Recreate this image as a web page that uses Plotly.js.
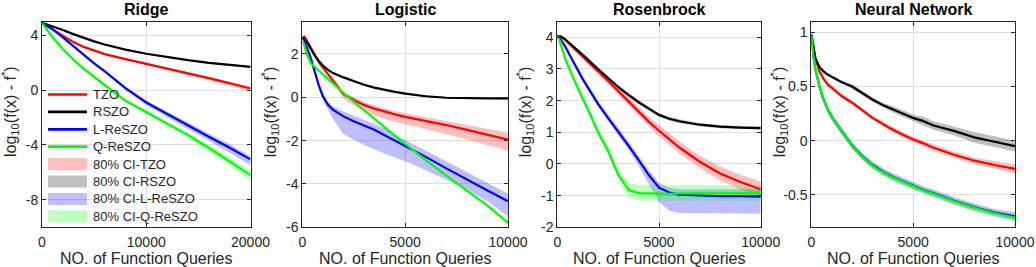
<!DOCTYPE html>
<html>
<head>
<meta charset="utf-8">
<script src="https://cdn.plot.ly/plotly-3.0.1.min.js"></script>
<style>
html,body{margin:0;padding:0;background:#fff;}
#chart{width:1036px;height:267px;}
</style>
</head>
<body>
<div id="chart"></div>
<script>
// ---------- data ----------
const seriesNames = ['TZO', 'RSZO', 'L-ReSZO', 'Q-ReSZO'];
const bandNames = ['80% CI-TZO', '80% CI-RSZO', '80% CI-L-ReSZO', '80% CI-Q-ReSZO'];
const panelTitles = ['Ridge', 'Logistic', 'Rosenbrock', 'Neural Network'];
const xTitle = 'NO. of Function Queries';
const yTitle = 'log<sub>10</sub>(f(x) - f<sup>*</sup>)';

// queries grids
const qRidge = [0, 250, 500, 1000, 2000, 3000, 4000, 5000, 6000, 8000, 10000, 12000, 14000, 16000, 18000, 20000];
const qOther = [0, 100, 200, 400, 600, 800, 1000, 1250, 1500, 2000, 2500, 3000, 3500, 4000, 4500, 5000, 5500, 6000, 7000, 8000, 9000, 10000];

// Ridge
const ridgeTZO   = [4.9, 4.78, 4.66, 4.4, 3.92, 3.5, 3.15, 2.87, 2.62, 2.26, 1.92, 1.57, 1.22, 0.87, 0.5, 0.12];
const ridgeTZOlo = [4.88, 4.75, 4.62, 4.36, 3.87, 3.45, 3.09, 2.8, 2.55, 2.18, 1.83, 1.46, 1.1, 0.73, 0.34, -0.08];
const ridgeTZOhi = [4.92, 4.81, 4.7, 4.44, 3.96, 3.55, 3.2, 2.93, 2.68, 2.33, 2.0, 1.66, 1.32, 0.99, 0.63, 0.26];
const ridgeRSZO   = [4.9, 4.84, 4.78, 4.66, 4.38, 4.08, 3.8, 3.55, 3.32, 2.95, 2.65, 2.4, 2.18, 1.98, 1.83, 1.7];
const ridgeRSZOlo = [4.87, 4.81, 4.75, 4.62, 4.34, 4.04, 3.76, 3.51, 3.28, 2.9, 2.6, 2.35, 2.12, 1.92, 1.76, 1.62];
const ridgeRSZOhi = [4.93, 4.87, 4.81, 4.7, 4.42, 4.12, 3.84, 3.59, 3.36, 3.0, 2.7, 2.45, 2.24, 2.04, 1.9, 1.78];
const ridgeL   = [4.9, 4.8, 4.68, 4.45, 3.85, 3.2, 2.55, 1.95, 1.38, 0.15, -0.9, -1.75, -2.6, -3.4, -4.2, -5.05];
const ridgeLlo = [4.88, 4.77, 4.64, 4.4, 3.78, 3.12, 2.46, 1.85, 1.26, 0.0, -1.08, -1.97, -2.86, -3.7, -4.56, -5.5];
const ridgeLhi = [4.92, 4.83, 4.72, 4.5, 3.92, 3.28, 2.63, 2.04, 1.48, 0.27, -0.76, -1.58, -2.4, -3.17, -3.95, -4.82];
const ridgeQ   = [4.9, 4.62, 4.38, 3.85, 2.98, 2.22, 1.55, 0.95, 0.37, -0.78, -1.6, -2.42, -3.28, -4.22, -5.18, -6.2];
const ridgeQlo = [4.88, 4.59, 4.34, 3.8, 2.92, 2.15, 1.47, 0.86, 0.27, -0.9, -1.75, -2.6, -3.5, -4.5, -5.52, -6.65];
const ridgeQhi = [4.92, 4.65, 4.42, 3.9, 3.04, 2.29, 1.63, 1.04, 0.47, -0.67, -1.46, -2.26, -3.1, -4.0, -4.92, -5.92];

// Logistic
const logTZO   = [2.75, 2.8, 2.65, 2.3, 1.92, 1.62, 1.37, 1.07, 0.78, 0.15, -0.12, -0.35, -0.52, -0.67, -0.79, -0.9, -0.99, -1.08, -1.28, -1.5, -1.72, -1.95];
const logTZOlo = [2.71, 2.76, 2.6, 2.25, 1.86, 1.55, 1.28, 0.96, 0.64, -0.05, -0.38, -0.65, -0.84, -1.0, -1.13, -1.25, -1.35, -1.45, -1.7, -1.95, -2.2, -2.47];
const logTZOhi = [2.79, 2.84, 2.7, 2.35, 1.98, 1.69, 1.44, 1.16, 0.88, 0.25, 0.0, -0.22, -0.38, -0.52, -0.63, -0.73, -0.82, -0.9, -1.08, -1.27, -1.45, -1.64];
const logRSZO   = [2.75, 2.7, 2.58, 2.25, 1.95, 1.68, 1.47, 1.27, 1.12, 0.92, 0.74, 0.58, 0.45, 0.34, 0.25, 0.17, 0.1, 0.05, -0.02, -0.05, -0.05, -0.05];
const logRSZOlo = [2.71, 2.66, 2.54, 2.21, 1.91, 1.64, 1.43, 1.23, 1.08, 0.88, 0.7, 0.54, 0.41, 0.3, 0.21, 0.13, 0.06, 0.01, -0.06, -0.09, -0.09, -0.1];
const logRSZOhi = [2.79, 2.74, 2.62, 2.29, 1.99, 1.72, 1.51, 1.31, 1.16, 0.96, 0.78, 0.62, 0.49, 0.38, 0.29, 0.21, 0.14, 0.09, 0.02, -0.01, -0.01, 0.0];
const logL   = [2.7, 2.65, 2.35, 1.85, 1.2, 0.55, 0.05, -0.35, -0.58, -0.88, -1.1, -1.3, -1.5, -1.75, -2.0, -2.23, -2.49, -2.75, -3.28, -3.8, -4.3, -4.8];
const logLlo = [2.66, 2.6, 2.28, 1.76, 1.08, 0.4, -0.15, -0.6, -1.0, -1.71, -1.95, -2.2, -2.4, -2.6, -2.78, -2.95, -3.15, -3.35, -3.8, -4.25, -4.8, -5.5];
const logLhi = [2.74, 2.7, 2.42, 1.94, 1.3, 0.68, 0.2, -0.2, -0.42, -0.66, -0.85, -1.04, -1.22, -1.43, -1.7, -1.98, -2.22, -2.45, -2.95, -3.45, -3.95, -4.45];
const logQ   = [2.6, 2.4, 2.05, 1.58, 1.4, 1.22, 1.08, 0.86, 0.63, 0.2, -0.2, -0.6, -1.0, -1.4, -1.78, -2.15, -2.53, -2.9, -3.62, -4.3, -5.0, -5.8];
const logQlo = [2.57, 2.37, 2.02, 1.55, 1.37, 1.19, 1.05, 0.83, 0.6, 0.17, -0.23, -0.63, -1.03, -1.43, -1.81, -2.18, -2.56, -2.94, -3.66, -4.35, -5.05, -5.86];
const logQhi = [2.63, 2.43, 2.08, 1.61, 1.43, 1.25, 1.11, 0.89, 0.66, 0.23, -0.17, -0.57, -0.97, -1.37, -1.75, -2.12, -2.5, -2.86, -3.58, -4.25, -4.95, -5.74];

// Rosenbrock
const rosTZO   = [4.05, 4.04, 4.01, 3.92, 3.8, 3.68, 3.56, 3.41, 3.25, 2.93, 2.62, 2.3, 1.98, 1.65, 1.33, 1.05, 0.77, 0.52, 0.07, -0.3, -0.57, -0.8];
const rosTZOlo = [4.03, 4.01, 3.97, 3.87, 3.74, 3.61, 3.48, 3.32, 3.15, 2.82, 2.5, 2.17, 1.84, 1.5, 1.18, 0.88, 0.59, 0.33, -0.13, -0.52, -0.8, -1.02];
const rosTZOhi = [4.07, 4.07, 4.05, 3.97, 3.86, 3.75, 3.64, 3.5, 3.35, 3.04, 2.74, 2.43, 2.12, 1.8, 1.48, 1.22, 0.95, 0.71, 0.27, -0.08, -0.34, -0.56];
const rosRSZO   = [4.05, 4.04, 4.02, 3.93, 3.82, 3.7, 3.6, 3.46, 3.3, 3.0, 2.7, 2.43, 2.18, 1.95, 1.75, 1.55, 1.43, 1.35, 1.24, 1.18, 1.15, 1.13];
const rosRSZOlo = [4.03, 4.01, 3.98, 3.89, 3.77, 3.65, 3.55, 3.41, 3.25, 2.95, 2.65, 2.38, 2.12, 1.89, 1.69, 1.49, 1.37, 1.29, 1.19, 1.13, 1.1, 1.08];
const rosRSZOhi = [4.07, 4.07, 4.06, 3.97, 3.87, 3.75, 3.65, 3.51, 3.35, 3.05, 2.75, 2.48, 2.24, 2.01, 1.81, 1.61, 1.49, 1.41, 1.29, 1.23, 1.2, 1.18];
const rosL   = [4.05, 4.0, 3.9, 3.7, 3.45, 3.2, 2.95, 2.68, 2.42, 1.9, 1.45, 1.02, 0.58, 0.12, -0.35, -0.75, -0.9, -0.97, -1.0, -1.02, -1.02, -1.03];
const rosLlo = [4.03, 3.97, 3.86, 3.65, 3.39, 3.13, 2.87, 2.6, 2.33, 1.8, 1.34, 0.9, 0.44, -0.05, -0.65, -1.2, -1.48, -1.55, -1.57, -1.57, -1.57, -1.57];
const rosLhi = [4.07, 4.03, 3.94, 3.75, 3.51, 3.27, 3.03, 2.76, 2.51, 2.0, 1.56, 1.14, 0.7, 0.25, -0.2, -0.6, -0.75, -0.8, -0.8, -0.8, -0.8, -0.8];
const rosQ   = [4.05, 3.92, 3.7, 3.3, 2.98, 2.68, 2.4, 2.05, 1.72, 1.0, 0.4, -0.35, -0.82, -0.92, -0.93, -0.94, -0.94, -0.93, -0.93, -0.92, -0.92, -0.92];
const rosQlo = [4.03, 3.89, 3.66, 3.25, 2.92, 2.61, 2.32, 1.96, 1.62, 0.89, 0.27, -0.5, -1.08, -1.16, -1.17, -1.18, -1.18, -1.18, -1.17, -1.17, -1.17, -1.17];
const rosQhi = [4.07, 3.95, 3.74, 3.35, 3.04, 2.75, 2.48, 2.14, 1.82, 1.11, 0.53, -0.2, -0.6, -0.66, -0.67, -0.68, -0.68, -0.67, -0.67, -0.67, -0.67, -0.67];

// Neural Network
const nnTZO   = [0.98, 0.86, 0.76, 0.64, 0.57, 0.52, 0.49, 0.45, 0.41, 0.35, 0.28, 0.21, 0.155, 0.1, 0.055, 0.01, -0.025, -0.065, -0.13, -0.185, -0.225, -0.26];
const nnTZOlo = [0.97, 0.85, 0.75, 0.62, 0.55, 0.5, 0.47, 0.43, 0.39, 0.33, 0.26, 0.19, 0.13, 0.075, 0.03, -0.015, -0.05, -0.095, -0.16, -0.215, -0.26, -0.3];
const nnTZOhi = [0.99, 0.87, 0.77, 0.66, 0.59, 0.54, 0.51, 0.47, 0.43, 0.37, 0.3, 0.23, 0.18, 0.125, 0.08, 0.035, 0.0, -0.035, -0.1, -0.155, -0.19, -0.22];
const nnRSZO   = [0.98, 0.86, 0.76, 0.68, 0.64, 0.61, 0.59, 0.56, 0.54, 0.5, 0.44, 0.38, 0.33, 0.29, 0.25, 0.21, 0.18, 0.14, 0.09, 0.03, -0.01, -0.05];
const nnRSZOlo = [0.97, 0.85, 0.75, 0.67, 0.63, 0.6, 0.58, 0.55, 0.53, 0.48, 0.42, 0.36, 0.31, 0.26, 0.22, 0.18, 0.14, 0.1, 0.05, -0.02, -0.06, -0.1];
const nnRSZOhi = [0.99, 0.87, 0.77, 0.69, 0.65, 0.62, 0.6, 0.57, 0.55, 0.52, 0.46, 0.4, 0.35, 0.32, 0.28, 0.24, 0.22, 0.18, 0.13, 0.08, 0.04, 0.0];
const nnL   = [0.98, 0.78, 0.66, 0.5, 0.38, 0.29, 0.22, 0.15, 0.085, -0.045, -0.145, -0.225, -0.285, -0.335, -0.375, -0.415, -0.455, -0.485, -0.555, -0.615, -0.665, -0.7];
const nnLlo = [0.97, 0.75, 0.63, 0.47, 0.35, 0.26, 0.19, 0.12, 0.055, -0.075, -0.175, -0.26, -0.32, -0.37, -0.41, -0.45, -0.49, -0.52, -0.59, -0.65, -0.7, -0.74];
const nnLhi = [0.99, 0.81, 0.69, 0.53, 0.41, 0.32, 0.25, 0.18, 0.115, -0.015, -0.115, -0.19, -0.25, -0.3, -0.34, -0.38, -0.42, -0.45, -0.52, -0.58, -0.63, -0.66];
const nnQ   = [0.98, 0.78, 0.66, 0.5, 0.38, 0.29, 0.22, 0.15, 0.08, -0.05, -0.15, -0.23, -0.29, -0.34, -0.38, -0.42, -0.46, -0.49, -0.56, -0.62, -0.67, -0.71];
const nnQlo = [0.97, 0.75, 0.63, 0.47, 0.35, 0.26, 0.19, 0.12, 0.05, -0.08, -0.18, -0.26, -0.32, -0.37, -0.41, -0.45, -0.49, -0.52, -0.59, -0.65, -0.7, -0.74];
const nnQhi = [0.99, 0.81, 0.69, 0.53, 0.41, 0.32, 0.25, 0.18, 0.11, -0.02, -0.12, -0.2, -0.26, -0.31, -0.35, -0.39, -0.43, -0.46, -0.53, -0.59, -0.64, -0.68];

// axis ticks
const xTicksRidge = [0, 10000, 20000];
const xTicksOther = [0, 5000, 10000];
const yTicksRidge = [-8, -4, 0, 4];
const yTicksLog = [-6, -4, -2, 0, 2];
const yTicksRos = [-2, -1, 0, 1, 2, 3, 4];
const yTicksNN = [-0.5, 0, 0.5, 1];

// ---------- styling ----------
const lineColors = ['#ff0000', '#000000', '#0000ff', '#00ff00'];
const bandColors = ['rgba(255,0,0,0.25)', 'rgba(0,0,0,0.25)', 'rgba(0,0,255,0.25)', 'rgba(0,255,0,0.25)'];

const W = 1036, H = 267;
const plotTop = 21.5, plotBottom = 227.3;
const panels = [
  {x: qRidge, series: [[ridgeTZO, ridgeTZOlo, ridgeTZOhi], [ridgeRSZO, ridgeRSZOlo, ridgeRSZOhi], [ridgeL, ridgeLlo, ridgeLhi], [ridgeQ, ridgeQlo, ridgeQhi]],
   left: 42, right: 250.5, xr: [0, 20000], xt: xTicksRidge, yr: [-10, 5], yt: yTicksRidge},
  {x: qOther, series: [[logTZO, logTZOlo, logTZOhi], [logRSZO, logRSZOlo, logRSZOhi], [logL, logLlo, logLhi], [logQ, logQlo, logQhi]],
   left: 302.3, right: 508, xr: [0, 10000], xt: xTicksOther, yr: [-6, 3.5], yt: yTicksLog},
  {x: qOther, series: [[rosTZO, rosTZOlo, rosTZOhi], [rosRSZO, rosRSZOlo, rosRSZOhi], [rosL, rosLlo, rosLhi], [rosQ, rosQlo, rosQhi]],
   left: 557.3, right: 760.7, xr: [0, 10000], xt: xTicksOther, yr: [-2, 4.5], yt: yTicksRos},
  {x: qOther, series: [[nnTZO, nnTZOlo, nnTZOhi], [nnRSZO, nnRSZOlo, nnRSZOhi], [nnL, nnLlo, nnLhi], [nnQ, nnQlo, nnQhi]],
   left: 811.3, right: 1015, xr: [0, 10000], xt: xTicksOther, yr: [-0.8, 1.1], yt: yTicksNN}
];

const traces = [];
const layout = {
  width: W, height: H, autosize: false,
  margin: {l: 0, r: 0, t: 0, b: 0, pad: 0},
  paper_bgcolor: '#ffffff', plot_bgcolor: '#ffffff',
  font: {family: '"Liberation Sans", Arial, sans-serif', size: 14, color: '#262626'},
  showlegend: false,
  annotations: [],
  shapes: []
};

panels.forEach((p, i) => {
  const k = i === 0 ? '' : String(i + 1);
  const xa = 'x' + k, ya = 'y' + k;
  p.series.forEach((s, j) => {
    traces.push({
      type: 'scatter', mode: 'lines', xaxis: xa, yaxis: ya,
      x: p.x.concat(p.x.slice().reverse()),
      y: s[2].concat(s[1].slice().reverse()),
      fill: 'toself', fillcolor: bandColors[j],
      line: {width: 0, color: bandColors[j]},
      name: bandNames[j], hoverinfo: 'skip'
    });
  });
  p.series.forEach((s, j) => {
    traces.push({
      type: 'scatter', mode: 'lines', xaxis: xa, yaxis: ya,
      x: p.x, y: s[0],
      line: {width: 2.2, color: lineColors[j]},
      name: seriesNames[j]
    });
  });
  const axCommon = {
    showline: true, linecolor: '#262626', linewidth: 1, mirror: 'ticks',
    ticks: 'inside', ticklen: 4, tickwidth: 1, tickcolor: '#262626',
    showgrid: true, gridcolor: '#dedede', gridwidth: 1, zeroline: false,
    tickfont: {size: 14, color: '#262626'}, fixedrange: true
  };
  layout['xaxis' + k] = Object.assign({}, axCommon, {
    domain: [p.left / W, p.right / W], range: p.xr, anchor: ya,
    tickmode: 'array', tickvals: p.xt, ticktext: p.xt.map(String), ticklabelstandoff: 2
  });
  layout['yaxis' + k] = Object.assign({}, axCommon, {
    domain: [1 - plotBottom / H, 1 - plotTop / H], range: p.yr, anchor: xa,
    tickmode: 'array', tickvals: p.yt, ticktext: p.yt.map(String)
  });
  const cx = (p.left + p.right) / 2 / W;
  layout.annotations.push({
    xref: 'paper', yref: 'paper', x: cx, y: 1 - 10 / H, xanchor: 'center', yanchor: 'middle',
    text: '<b>' + panelTitles[i] + '</b>', showarrow: false,
    font: {size: 16, color: '#000000'}
  });
  layout.annotations.push({
    xref: 'paper', yref: 'paper', x: cx, y: 1 - 258 / H, xanchor: 'center', yanchor: 'middle',
    text: xTitle, showarrow: false, font: {size: 16, color: '#262626'}
  });
  layout.annotations.push({
    xref: 'paper', yref: 'paper', x: (p.left - 32) / W, y: 1 - 112 / H, xanchor: 'center', yanchor: 'middle',
    text: yTitle, textangle: -90, showarrow: false, font: {size: 16, color: '#262626'}
  });
});

// ---------- legend (inside the Ridge panel, MATLAB style) ----------
const legTop = 94.5, legStep = 17.4, legX0 = 48, legX1 = 87, legText = 91;
const legendItems = seriesNames.map((n, j) => ({name: n, kind: 'line', color: lineColors[j]}))
  .concat(bandNames.map((n, j) => ({name: n, kind: 'band', color: bandColors[j]})));
legendItems.forEach((it, r) => {
  const yc = legTop + r * legStep;
  if (it.kind === 'line') {
    layout.shapes.push({type: 'line', xref: 'paper', yref: 'paper',
      x0: legX0 / W, x1: legX1 / W, y0: 1 - yc / H, y1: 1 - yc / H,
      line: {color: it.color, width: 2.7}});
  } else {
    layout.shapes.push({type: 'rect', xref: 'paper', yref: 'paper',
      x0: legX0 / W, x1: legX1 / W, y0: 1 - (yc + 6) / H, y1: 1 - (yc - 6) / H,
      fillcolor: it.color, line: {width: 0}});
  }
  layout.annotations.push({xref: 'paper', yref: 'paper', x: legText / W, y: 1 - yc / H,
    xanchor: 'left', yanchor: 'middle', text: it.name, showarrow: false,
    font: {size: 13, color: '#262626'}});
});

Plotly.newPlot('chart', traces, layout, {displayModeBar: false, staticPlot: true});
</script>
</body>
</html>
